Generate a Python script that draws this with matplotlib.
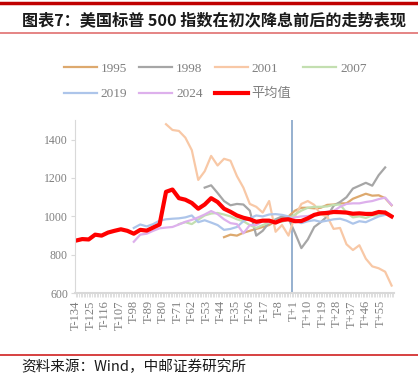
import matplotlib
matplotlib.use('Agg')
import matplotlib.pyplot as plt
import numpy as np

plt.rcParams['font.family'] = ['Liberation Serif', 'Noto Sans CJK SC']

# trading days around the first cut, T-134 .. T+63
days = list(range(-134, 64))
day_labels = [f'T{d:+d}' for d in days]
cut_day = 0

# values read every 4th day
step = 4
avg = [874, 882, 880, 905, 900, 916, 925, 933, 925, 910,
       930, 926, 942, 958, 1128, 1140, 1095, 1087, 1070, 1040,
       1062, 1095, 1075, 1040, 1024, 1005, 993, 985, 972, 978,
       978, 968, 982, 985, 975, 976, 990, 1008, 1016, 1018,
       1023, 1022, 1020, 1014, 1016, 1013, 1013, 1023, 1020, 1000]
avg_start = -134

y1995 = [892, 905, 900, 915, 925, 935, 945, 955, 975, 990,
         1000, 1030, 1045, 1045, 1042, 1045, 1060, 1062, 1068, 1068,
         1092, 1105, 1118, 1108, 1110, 1095, 1058]
y1995_start = -42

y1998 = [1150, 1162, 1122, 1080, 1058, 1065, 1062, 1030, 900, 925,
         968, 985, 1000, 990, 915, 835, 880, 945, 970, 1000,
         1055, 1075, 1100, 1145, 1160, 1175, 1160, 1215, 1255]
y1998_start = -54

y2001 = [1480, 1450, 1445, 1410, 1345, 1190, 1235, 1315, 1265, 1300,
         1290, 1210, 1150, 1065, 1050, 1020, 1080, 920, 955, 900,
         1000, 1065, 1080, 1060, 1010, 1000, 935, 940, 855, 825,
         850, 780, 740, 730, 712, 640]
y2001_start = -78

y2007 = [960, 970, 960, 983, 1005, 1015, 1018, 1010, 1000, 985,
         975, 955, 940, 955, 968, 975, 972, 985, 1010, 1030,
         1045, 1050, 1050, 1052, 1060, 1062, 1020, 995, 1000, 992,
         1005, 1005, 1025]
y2007_start = -70

y2019 = [940, 958, 948, 960, 978, 985, 988, 990, 995, 1005,
         970, 980, 968, 955, 930, 935, 945, 975, 990, 1005,
         1000, 1010, 1012, 1008, 1000, 980, 965, 975, 980, 972,
         978, 985, 988, 978, 962, 975, 970, 985, 1000, 1008]
y2019_start = -98

y2024 = [868, 905, 910, 925, 938, 942, 945, 958, 972, 982,
         995, 1010, 1028, 1012, 985, 965, 960, 912, 955, 955,
         975, 970, 968, 978, 985, 995, 1000, 1002, 1008, 1018,
         1025, 1028, 1050, 1065, 1068, 1068, 1075, 1080, 1090, 1098,
         1060]
y2024_start = -98

series = [
    ('1995', y1995, y1995_start, '#DDA96E', 1.6),
    ('1998', y1998, y1998_start, '#A6A6A6', 1.6),
    ('2001', y2001, y2001_start, '#F8C8A6', 1.6),
    ('2007', y2007, y2007_start, '#C3DFB0', 1.6),
    ('2019', y2019, y2019_start, '#ADC5EA', 1.6),
    ('2024', y2024, y2024_start, '#DDB0EC', 1.6),
    ('平均值', avg, avg_start, '#FF0000', 3.0),
]

fig = plt.figure(figsize=(4.18, 3.75), dpi=100)

# header / footer decoration
fig.add_artist(plt.Line2D([0, 1], [0.993, 0.993], color='#C00000', lw=2.5))
fig.add_artist(plt.Line2D([0, 1], [0.912, 0.912], color='#E07070', lw=1.2))
fig.add_artist(plt.Line2D([0, 1], [0.053, 0.053], color='#D02020', lw=1.2))
fig.text(0.053, 0.947, '图表7：美国标普 500 指数在初次降息前后的走势表现',
         family=['Noto Sans CJK SC'], fontweight='bold', fontsize=11.6,
         va='center', ha='left', color='#1a1a1a')
fig.text(0.05, 0.003, '资料来源：Wind，中邮证券研究所',
         family=['Noto Sans CJK SC'], fontsize=10.5, va='bottom', ha='left',
         color='#1a1a1a')

ax = fig.add_axes([0.179, 0.218, 0.764, 0.461])

handles = {}
for name, vals, start, col, lw in series:
    x = np.arange(start, start + step * len(vals), step)
    handles[name], = ax.plot(x, vals, color=col, lw=lw, label=name,
                             solid_joinstyle='round')

ax.axvline(cut_day, color='#8EAACB', lw=1.3, zorder=1)

ax.set_xlim(days[0] - 0.6, days[-1] + 0.6)
ax.set_ylim(600, 1500)
ax.set_yticks([600, 800, 1000, 1200, 1400])

tick_days = days[::9]
ax.set_xticks(tick_days)
ax.set_xticklabels([day_labels[days.index(d)] for d in tick_days], rotation=90)
ax.set_xticks(days, minor=True)

for s in ['top', 'right']:
    ax.spines[s].set_visible(False)
ax.spines['left'].set_color('#D9D9D9')
ax.spines['bottom'].set_color('#D9D9D9')
ax.spines['bottom'].set_linewidth(1.5)

ax.tick_params(axis='y', colors='#D9D9D9', labelcolor='#7F7F7F',
               labelsize=8.5, length=3, pad=2)
ax.tick_params(axis='x', which='both', colors='#D9D9D9', labelcolor='#7F7F7F',
               labelsize=9, length=3, width=0.6, pad=2)

# legend fills column by column, so order entries to read row by row
order = ['1995', '2019', '1998', '2024', '2001', '平均值', '2007']
fig.legend([handles[n] for n in order], order, loc='center',
           bbox_to_anchor=(0.515, 0.783), ncol=4, frameon=False,
           fontsize=9.5, labelcolor='#7F7F7F', handlelength=2.5,
           columnspacing=0.9, handletextpad=0.3, labelspacing=1.0)

fig.savefig('out.png', dpi=100)
